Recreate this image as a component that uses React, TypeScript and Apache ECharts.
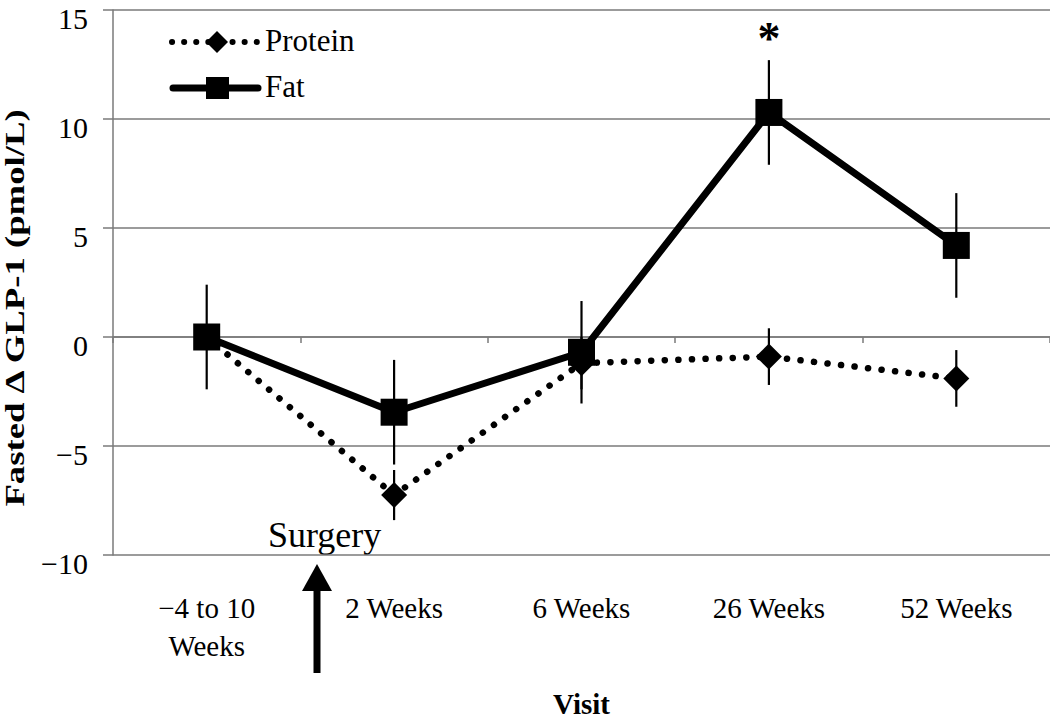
import React, { useEffect, useRef } from "react";
import * as echarts from "echarts";

const categories = ["\u22124 to 10\nWeeks", "2 Weeks", "6 Weeks", "26 Weeks", "52 Weeks"];
const seriesNames = ["Protein", "Fat"];
const proteinMean = [0, -7.25, -1.2, -0.9, -1.9];
const proteinErr = [0, 1.15, 1.2, 1.3, 1.3];
const fatMean = [0, -3.45, -0.7, 10.3, 4.2];
const fatErr = [2.4, 2.4, 2.35, 2.4, 2.4];
const yMin = -10;
const yMax = 15;
const yStep = 5;
const significantIndex = 3;

const FONT = "Liberation Serif";
const GRID_COLOR = "#7a7a7a";
const proteinLine = { color: "#000", width: 6.5, type: [0.1, 13.5], cap: "round" };
const fatLine = { color: "#000", width: 7 };

export default function App() {
  const ref = useRef<HTMLDivElement>(null);
  useEffect(() => {
    if (!ref.current) return;
    const chart = echarts.init(ref.current, undefined, { renderer: "svg" });

    const errData = (mean: number[], err: number[]) =>
      mean.map((m, i) => [i, m - err[i], m + err[i]]).filter((d, i) => err[i] > 0);

    const errRender = (params: any, api: any) => {
      const x = api.value(0);
      const lo = api.coord([x, api.value(1)]);
      const hi = api.coord([x, api.value(2)]);
      return {
        type: "line",
        shape: { x1: lo[0], y1: lo[1], x2: hi[0], y2: hi[1] },
        style: { stroke: "#000", lineWidth: 2.2 },
      };
    };

    const fatData = fatMean.map((v, i) =>
      i === significantIndex
        ? {
            value: v,
            label: {
              show: true,
              formatter: "*",
              position: "top",
              distance: 37,
              fontFamily: FONT,
              fontWeight: "bold",
              fontSize: 46,
              color: "#000",
            },
          }
        : v
    );

    // manual legend (line + marker + text), top-level graphic elements
    const legendGraphics = [
      {
        type: "line",
        shape: { x1: 172, y1: 42, x2: 257, y2: 42 },
        style: { stroke: "#000", lineWidth: 6, lineDash: [0.1, 12], lineCap: "round" },
      },
      {
        type: "polygon",
        shape: { points: [[217, 31], [228, 42], [217, 53], [206, 42]] },
        style: { fill: "#000" },
      },
      {
        type: "text",
        x: 265,
        y: 56,
        style: {
          text: seriesNames[0],
          fontFamily: FONT,
          fontSize: 31,
          fill: "#000",
          align: "left",
          verticalAlign: "bottom",
        },
      },
      {
        type: "line",
        shape: { x1: 173, y1: 88, x2: 258, y2: 88 },
        style: { stroke: "#000", lineWidth: 7, lineCap: "round" },
      },
      { type: "rect", shape: { x: 206, y: 77, width: 23, height: 22 }, style: { fill: "#000" } },
      {
        type: "text",
        x: 265,
        y: 102,
        style: {
          text: seriesNames[1],
          fontFamily: FONT,
          fontSize: 31,
          fill: "#000",
          align: "left",
          verticalAlign: "bottom",
        },
      },
    ];

    chart.setOption({
      animation: false,
      backgroundColor: "#fff",
      textStyle: { fontFamily: FONT, color: "#000" },
      grid: { left: 113, right: 0, top: 10, bottom: 163, containLabel: false, outerBoundsMode: "none" },
      xAxis: [
        {
          type: "category",
          data: categories,
          boundaryGap: true,
          axisLine: { show: false, onZero: false },
          axisTick: { show: false },
          axisLabel: {
            margin: 34,
            fontFamily: FONT,
            fontSize: 29,
            lineHeight: 38,
            color: "#000",
          },
          name: "Visit",
          nameLocation: "middle",
          nameGap: 134,
          nameTextStyle: { fontFamily: FONT, fontSize: 29, fontWeight: "bold", color: "#000" },
        },
        {
          type: "category",
          data: categories,
          boundaryGap: true,
          position: "bottom",
          axisLine: { show: true, onZero: true, lineStyle: { color: GRID_COLOR, width: 1.5 } },
          axisTick: { show: true, length: 6, lineStyle: { color: GRID_COLOR, width: 1.5 } },
          axisLabel: { show: false },
        },
      ],
      yAxis: {
        type: "value",
        min: yMin,
        max: yMax,
        interval: yStep,
        axisLine: { show: true, lineStyle: { color: GRID_COLOR, width: 1.5 } },
        axisTick: { show: true, length: 10, lineStyle: { color: GRID_COLOR, width: 1.5 } },
        splitLine: { show: true, lineStyle: { color: GRID_COLOR, width: 1.5 } },
        axisLabel: {
          margin: 25,
          fontFamily: FONT,
          fontSize: 30,
          lineHeight: 16,
          verticalAlign: "top",
          color: "#000",
          formatter: (v: number) => String(v).replace("-", "\u2212"),
        },
      },
      graphic: [
        ...legendGraphics,
        {
          type: "text",
          x: 15,
          y: 308,
          rotation: Math.PI / 2,
          scaleX: 1.36,
          style: {
            text: "Fasted \u0394 GLP-1 (pmol/L)",
            fontFamily: FONT,
            fontWeight: "bold",
            fontSize: 27,
            fill: "#000",
            align: "center",
            verticalAlign: "middle",
          },
        },
        {
          type: "text",
          x: 268,
          y: 553,
          style: {
            text: "Surgery",
            fontFamily: FONT,
            fontSize: 36,
            fill: "#000",
            align: "left",
            verticalAlign: "bottom",
          },
        },
        {
          type: "line",
          shape: { x1: 317, y1: 673, x2: 317, y2: 585 },
          style: { stroke: "#000", lineWidth: 7 },
        },
        {
          type: "polygon",
          shape: { points: [[317, 564], [302, 591], [332, 591]] },
          style: { fill: "#000" },
        },
      ],
      series: [
        {
          name: seriesNames[0],
          type: "line",
          data: proteinMean,
          symbol: "diamond",
          symbolSize: 26,
          itemStyle: { color: "#000" },
          lineStyle: proteinLine,
          z: 3,
        },
        {
          name: seriesNames[1],
          type: "line",
          data: fatData,
          symbol: "rect",
          symbolSize: 27,
          itemStyle: { color: "#000" },
          lineStyle: fatLine,
          z: 4,
        },
        {
          type: "custom",
          data: errData(proteinMean, proteinErr),
          renderItem: errRender,
          z: 2,
          silent: true,
        },
        {
          type: "custom",
          data: errData(fatMean, fatErr),
          renderItem: errRender,
          z: 2,
          silent: true,
        },
      ],
    });
    return () => chart.dispose();
  }, []);

  return (
    <div
      ref={ref}
      style={{ position: "absolute", left: 0, top: 0, width: 1050, height: 718, background: "#fff" }}
    />
  );
}
